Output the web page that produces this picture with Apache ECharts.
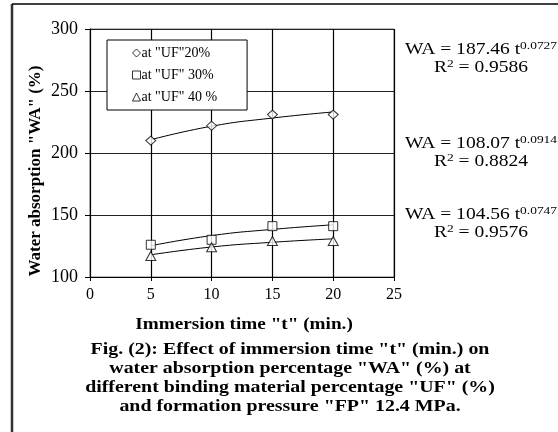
<!DOCTYPE html>
<html>
<head>
<meta charset="utf-8">
<script src="https://cdn.jsdelivr.net/npm/echarts@6/dist/echarts.min.js"></script>
<style>
  html, body { margin: 0; padding: 0; background: #fff; }
  #chart { width: 558px; height: 432px; }
</style>
</head>
<body>
<div id="chart"></div>
<script>
// immersion time "t" (min.)
const times = [5, 10, 15, 20];

// measured water absorption "WA" (%)
const wa20 = [210, 222, 231, 231];
const wa30 = [126, 130, 141, 141];
const wa40 = [117, 124, 129, 129];

// power trend lines
const trend20 = [210.7, 221.6, 228.2, 233.1];
const trend30 = [125.2, 133.4, 138.4, 142.1];
const trend40 = [117.9, 124.2, 128.0, 130.8];

const seriesNames = ['at "UF"20%', 'at "UF" 30%', 'at "UF" 40 %'];
const equations = [
    ['187.46', '0.0727', '0.9586'],
    ['108.07', '0.0914', '0.8824'],
    ['104.56', '0.0747', '0.9576']
];

const captionLines = [
    'Fig. (2): Effect of immersion time "t" (min.) on',
    'water absorption percentage "WA" (%) at',
    'different binding material percentage "UF" (%)',
    'and formation pressure "FP" 12.4 MPa.'
];

const serif = '"Liberation Serif", "DejaVu Serif", serif';

function pairs(ys) {
    return times.map(function (t, i) { return [t, ys[i]]; });
}

function trendSeries(ys) {
    return {
        type: 'line',
        data: pairs(ys),
        smooth: true,
        showSymbol: false,
        silent: true,
        lineStyle: { color: '#000', width: 1 },
        z: 3
    };
}

function markSeries(name, ys, symbol, size) {
    return {
        name: name,
        type: 'scatter',
        data: pairs(ys),
        symbol: symbol,
        symbolSize: size,
        itemStyle: { color: '#fff', borderColor: '#000', borderWidth: 1 },
        z: 5
    };
}

// equation boxes on the right (centre of each two-line block)
const eqY = [59, 153, 224];
const eqGraphics = [];
equations.forEach(function (eq, i) {
    eqGraphics.push({
        type: 'text',
        x: 481, y: eqY[i],
        scaleX: 1.22,
        style: {
            text: '{b|WA = ' + eq[0] + ' t}{s|' + eq[1] + '}\n{b|R}{s|2}{b| = ' + eq[2] + '}',
            align: 'center',
            verticalAlign: 'middle',
            fill: '#000',
            font: '16px ' + serif,
            lineHeight: 18,
            rich: {
                b: { fontSize: 16, fontFamily: serif, lineHeight: 18 },
                s: { fontSize: 11, fontFamily: serif, verticalAlign: 'top', lineHeight: 18, padding: [0, 0, 5, 0] }
            }
        }
    });
});

const chart = echarts.init(document.getElementById('chart'));
chart.setOption({
    animation: false,
    backgroundColor: '#fff',
    textStyle: { fontFamily: serif },
    grid: { left: 90, top: 29, width: 304, height: 248, show: true, borderColor: '#777', borderWidth: 1 },
    xAxis: {
        type: 'value',
        min: 0, max: 25, interval: 5,
        axisLine: { show: true, onZero: false, lineStyle: { color: '#000', width: 1 } },
        axisTick: { show: true, length: 4, lineStyle: { color: '#000' } },
        axisLabel: { color: '#000', fontSize: 16, fontFamily: serif, margin: 10 },
        splitLine: { show: true, lineStyle: { color: '#000', width: 1.2 } }
    },
    yAxis: {
        type: 'value',
        min: 100, max: 300, interval: 50,
        axisLine: { show: true, lineStyle: { color: '#000', width: 1 } },
        axisTick: { show: true, length: 5, lineStyle: { color: '#000' } },
        axisLabel: { color: '#000', fontSize: 18, fontFamily: serif, margin: 12 },
        splitLine: { show: true, lineStyle: { color: '#222', width: 1 } }
    },
    legend: {
        data: seriesNames,
        orient: 'vertical',
        left: 107, top: 40,
        padding: [6, 30, 6, 25],
        itemGap: 8,
        itemWidth: 8, itemHeight: 8,
        backgroundColor: '#fff',
        borderColor: '#000',
        borderWidth: 1,
        borderRadius: 0,
        itemStyle: { color: '#fff', borderColor: '#000', borderWidth: 1 },
        textStyle: { color: '#000', fontSize: 14, fontFamily: serif, padding: [0, 0, 0, -4] }
    },
    series: [
        trendSeries(trend20),
        trendSeries(trend30),
        trendSeries(trend40),
        markSeries(seriesNames[0], wa20, 'diamond', [10, 9]),
        markSeries(seriesNames[1], wa30, 'rect', 9),
        markSeries(seriesNames[2], wa40, 'triangle', [10, 9])
    ],
    graphic: [
        // outer frame
        { type: 'line', shape: { x1: 12, y1: 4, x2: 12, y2: 432 }, style: { stroke: '#333', lineWidth: 2.5 } },
        { type: 'line', shape: { x1: 12, y1: 4, x2: 558, y2: 4 }, style: { stroke: '#000', lineWidth: 1.5 } },
        {
            type: 'text', x: 36, y: 171, rotation: Math.PI / 2,
            style: {
                text: 'Water absorption "WA" (%)', align: 'center', verticalAlign: 'middle',
                fill: '#000', font: 'bold 17px ' + serif
            }
        },
        {
            type: 'text', x: 244, y: 325, scaleX: 1.2,
            style: {
                text: 'Immersion time "t" (min.)', align: 'center', verticalAlign: 'middle',
                fill: '#000', font: 'bold 16px ' + serif
            }
        },
        {
            type: 'text', x: 290, y: 378, scaleX: 1.17,
            style: {
                text: captionLines.join('\n'), align: 'center', verticalAlign: 'middle',
                fill: '#000', font: 'bold 17px ' + serif, lineHeight: 19
            }
        }
    ].concat(eqGraphics)
});
</script>
</body>
</html>
